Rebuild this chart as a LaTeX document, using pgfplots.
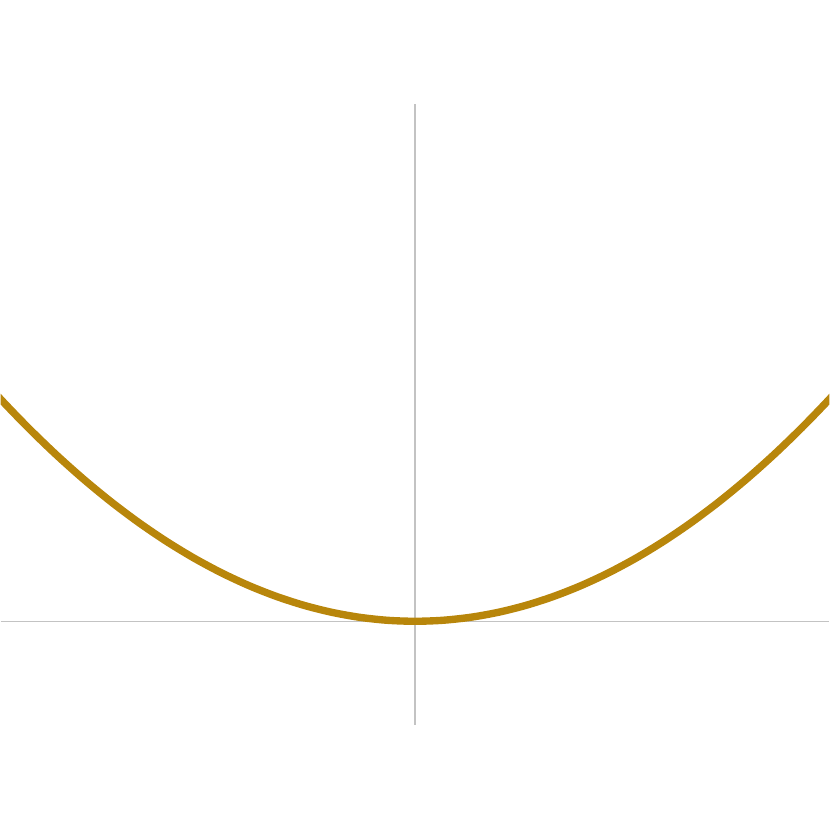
\documentclass[border=0pt]{standalone}
\usepackage{pgfplots}
\pgfplotsset{compat=1.18}
\definecolor{curve}{RGB}{184,134,11}
\definecolor{axgray}{RGB}{195,195,195}
\begin{document}
\begin{tikzpicture}
\begin{axis}[
  scale only axis,
  width=8.3cm, height=6.22cm,
  xmin=-1.5, xmax=1.5,
  ymin=-1.049, ymax=5.243,
  axis lines=middle,
  axis line style={-, draw=axgray, line width=0.4pt},
  xtick=\empty, ytick=\empty,
  clip=true,
]
\addplot[curve, line width=2.1pt, smooth] coordinates {
(-1.6,2.56) (-1.5,2.25) (-1.4,1.96) (-1.3,1.69) (-1.2,1.44) (-1.1,1.21) (-1.0,1.00)
(-0.9,0.81) (-0.8,0.64) (-0.7,0.49) (-0.6,0.36) (-0.5,0.25) (-0.4,0.16)
(-0.3,0.09) (-0.2,0.04) (-0.1,0.01) (0,0) (0.1,0.01) (0.2,0.04) (0.3,0.09)
(0.4,0.16) (0.5,0.25) (0.6,0.36) (0.7,0.49) (0.8,0.64) (0.9,0.81) (1.0,1.00)
(1.1,1.21) (1.2,1.44) (1.3,1.69) (1.4,1.96) (1.5,2.25) (1.6,2.56)
};
\end{axis}
\path[use as bounding box] (0,-1.04cm) rectangle (8.3cm,7.26cm);
\end{tikzpicture}
\end{document}
